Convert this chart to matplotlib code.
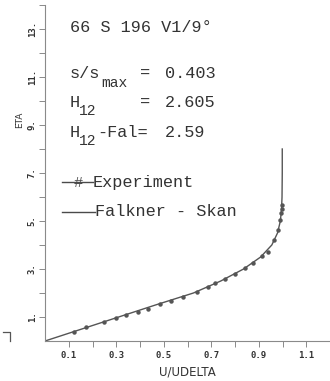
import matplotlib
matplotlib.use("Agg")
import matplotlib.pyplot as plt
from matplotlib.lines import Line2D
import numpy as np

# Experimental points (U/UDELTA, ETA)
exp_u = [0.124, 0.172, 0.250, 0.300, 0.343, 0.392, 0.434, 0.483, 0.532, 0.581,
         0.638, 0.685, 0.715, 0.757, 0.799, 0.842, 0.876, 0.912, 0.940, 0.965,
         0.982, 0.989, 0.994, 0.996, 0.997]
exp_eta = [0.39, 0.57, 0.78, 0.95, 1.08, 1.22, 1.34, 1.55, 1.68, 1.82,
           2.05, 2.25, 2.40, 2.58, 2.79, 3.03, 3.24, 3.54, 3.72, 4.21,
           4.63, 5.04, 5.32, 5.50, 5.67]

# Falkner-Skan profile
fs_eta = [0, 0.5, 1.0, 1.5, 2.0, 2.5, 3.0, 3.5, 4.0, 4.5, 5.0, 5.5, 6.0, 7.0, 8.0]
fs_u = [0, 0.155, 0.31, 0.465, 0.625, 0.74, 0.836, 0.908, 0.955, 0.979, 0.991,
        0.996, 0.998, 0.999, 0.999]

x_ticks = [0.1, 0.2, 0.3, 0.4, 0.5, 0.6, 0.7, 0.8, 0.9, 1.0, 1.1]
x_labels = ["0.1", "", "0.3", "", "0.5", "", "0.7", "", "0.9", "", "1.1"]
y_ticks = list(range(1, 15))
y_labels = ["1.", "", "3.", "", "5.", "", "7.", "", "9.", "", "11.", "", "13.", ""]

title_txt = "66 S 196 V1/9°"
s_val = "0.403"
h12_val = "2.605"
h12fal_val = "2.59"

W, H = 330, 381
fig = plt.figure(figsize=(W / 100, H / 100), dpi=100)
ax = fig.add_axes([45 / W, 40 / H, 285 / W, 336 / H])

tc = "#333333"
lc = "#4a4a4a"

ax.plot(fs_u, fs_eta, color="#555555", lw=1.0)
ax.plot(exp_u, exp_eta, ls="none", marker="o", ms=2.2, color="#555555")

ax.set_xlim(0, 1.2)
ax.set_ylim(0, 14)
for s in ("top", "right"):
    ax.spines[s].set_visible(False)
for s in ("left", "bottom"):
    ax.spines[s].set_color("#8a8a8a")
    ax.spines[s].set_linewidth(0.8)

ax.set_xticks(x_ticks)
ax.set_xticklabels(x_labels, fontfamily="DejaVu Sans Mono", fontsize=6.5,
                   fontweight="bold", color=tc)
ax.set_yticks(y_ticks)
ax.set_yticklabels(y_labels, fontfamily="DejaVu Sans Mono", fontsize=6.5,
                   fontweight="bold", color=tc, rotation=90, va="center")
ax.tick_params(axis="both", direction="out", length=4, width=0.7, colors="#8a8a8a",
               labelcolor=tc)
ax.tick_params(axis="x", pad=3)
ax.tick_params(axis="y", pad=2)

ax.set_xlabel("U/UDELTA", fontfamily="DejaVu Sans", fontsize=8.5, color=tc, labelpad=4)
fig.text(20 / W, 1 - 120 / H, "ETA", rotation=90, ha="center", va="center",
         fontfamily="DejaVu Sans", fontsize=6.5, color=tc)


def ft(x, y, s, size=12.2, **kw):
    fig.text(x / W, 1 - y / H, s, fontfamily="Liberation Mono", fontsize=size,
             color=tc, va="baseline", ha="left", **kw)


ft(70, 32, title_txt)
ft(70, 78, "s/s")
ft(101, 87, "max", size=10.5)
ft(140, 78, "=")
ft(165, 78, s_val)
ft(70, 107, "H")
ft(79, 115, "12", size=10.5)
ft(140, 107, "=")
ft(165, 107, h12_val)
ft(70, 137, "H")
ft(79, 145, "12", size=10.5)
ft(97, 137, "-Fal=")
ft(165, 137, h12fal_val)

# Legend (drawn manually)
fig.add_artist(Line2D([62 / W, 93 / W], [1 - 182 / H, 1 - 182 / H], color=lc, lw=1.0))
fig.text(78.5 / W, 1 - 187 / H, "#", fontfamily="Liberation Mono", fontsize=11,
         color=lc, ha="center", va="baseline")
ft(93, 187, "Experiment")
fig.add_artist(Line2D([62 / W, 95 / W], [1 - 212 / H, 1 - 212 / H], color=lc, lw=1.0))
ft(95, 216, "Falkner - Skan")

# small corner mark
fig.add_artist(Line2D([3 / W, 10 / W, 10 / W], [1 - 332 / H, 1 - 332 / H, 1 - 341 / H],
                      color="#555555", lw=0.9))

fig.savefig("out.png", dpi=100, facecolor="white")
